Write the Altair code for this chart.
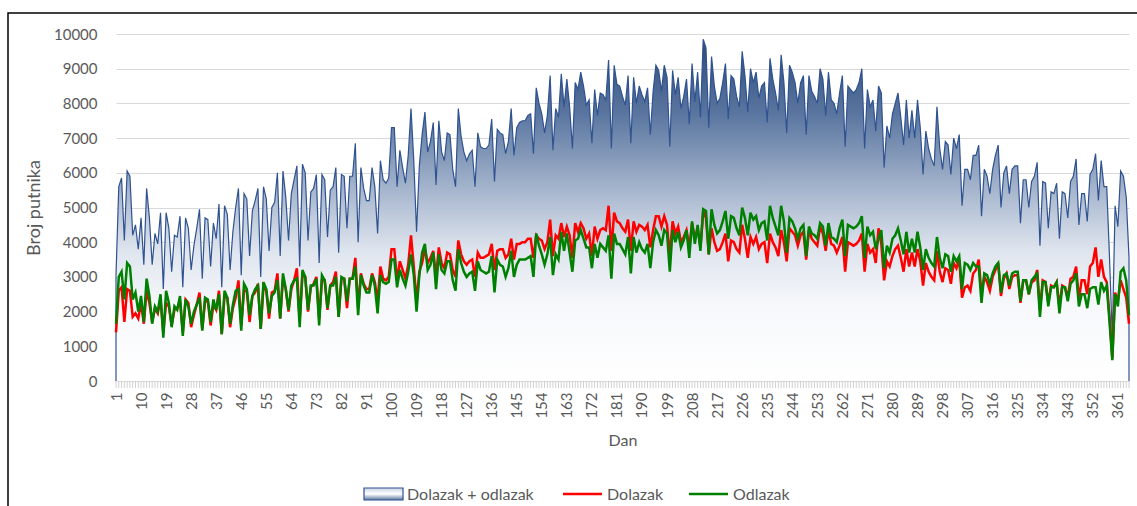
import altair as alt
import pandas as pd

# Day of year (category axis)
dani = list(range(1, 366))

# Daily arrivals (Dolazak)
dolazak = [
    1400, 2600, 2700, 1700, 2650, 2600, 1850, 1950, 1800, 2250,
    1650, 2600, 2250, 1700, 2100, 1950, 2350, 1400, 2250, 2150,
    1600, 2050, 2100, 2300, 1400, 2350, 2250, 1550, 1900, 2200,
    2550, 1500, 2300, 2300, 1600, 2200, 2050, 2600, 1350, 2450,
    2400, 1550, 2100, 2400, 2900, 1600, 2600, 2600, 1700, 2450,
    2550, 2800, 1500, 2750, 2600, 1800, 2550, 2600, 3100, 1800,
    2950, 2650, 2000, 2650, 2900, 3250, 1750, 3050, 3000, 2000,
    2700, 2800, 3000, 1800, 2900, 2900, 2050, 2750, 2850, 3150,
    1850, 2950, 2950, 2100, 2950, 2950, 3550, 2100, 3100, 2800,
    2650, 2650, 3100, 2850, 2300, 3300, 2950, 2900, 3000, 3800,
    3800, 2900, 3450, 3200, 2950, 3350, 4200, 3300, 2300, 3150,
    3400, 3800, 3400, 3550, 3750, 3000, 3850, 3400, 3250, 3700,
    3650, 3200, 3000, 4050, 3650, 3450, 3350, 3450, 3500, 3000,
    3700, 3550, 3550, 3600, 3650, 3950, 3200, 3750, 3800, 3800,
    3550, 3650, 4100, 3500, 3950, 3950, 4000, 4000, 4100, 4100,
    3550, 4200, 4100, 4050, 3800, 4000, 4650, 3600, 4200, 4100,
    4550, 4150, 4450, 4200, 3550, 4550, 4300, 4550, 4400, 4100,
    4250, 3600, 4450, 4100, 4350, 4400, 4350, 5050, 3750, 4850,
    4600, 4550, 4400, 4300, 4650, 3750, 4600, 4300, 4500, 4450,
    4350, 4500, 3850, 4350, 4750, 4750, 4450, 4750, 4500, 3600,
    4600, 4250, 4450, 4000, 4150, 4350, 3850, 4550, 4100, 4400,
    3850, 4900, 4700, 3650, 4400, 4000, 3750, 3800, 4000, 4250,
    3450, 4050, 4000, 3800, 3700, 4500, 4100, 3550, 4150, 3950,
    4150, 3800, 3950, 4000, 3400, 4250, 4000, 3850, 3600, 4350,
    4000, 3450, 4400, 4300, 4200, 3900, 4200, 4300, 3500, 4350,
    4100, 4000, 3900, 4450, 4250, 3750, 4350, 3950, 3900, 3700,
    3900, 4150, 3150, 4000, 3950, 3900, 3950, 4050, 4250, 3150,
    3950, 3700, 3800, 3400, 4400, 3950, 2900, 3450, 3300, 3600,
    3800, 3900, 3550, 3150, 3800, 3300, 3700, 3300, 3800, 3450,
    2750, 3400, 3150, 3000, 2900, 3750, 3150, 2850, 3250, 3200,
    2800, 3400, 3250, 3500, 2400, 2700, 2750, 2600, 3100, 3200,
    3500, 2500, 3000, 2850, 2600, 3000, 3200, 3400, 2450, 2950,
    3100, 2650, 3000, 3050, 3050, 2250, 2900, 2900, 2500, 2850,
    2900, 3200, 2050, 2900, 2850, 2250, 2750, 2700, 2850, 2150,
    2750, 2700, 2400, 2950, 3000, 3300, 2350, 2900, 2900, 2500,
    3300, 3400, 3850, 3000, 3500, 3000, 2850, 1850, 650, 2550,
    2300, 2900, 2650, 2400, 1650,
]

# Daily departures (Odlazak)
odlazak = [
    1650, 3000, 3150, 2350, 3400, 3300, 2350, 2550, 2000, 2450,
    1700, 2950, 2450, 1650, 2150, 2000, 2500, 1250, 2600, 2250,
    1550, 2150, 2050, 2450, 1300, 2350, 2150, 1650, 2000, 2200,
    2400, 1450, 2400, 2350, 1700, 2350, 2050, 2500, 1350, 2600,
    2400, 1650, 2200, 2600, 2650, 1450, 2800, 2650, 1900, 2450,
    2650, 2750, 1500, 2850, 2650, 1950, 2450, 2550, 2900, 1800,
    3100, 2650, 2050, 2750, 2900, 2950, 1550, 3200, 3000, 2050,
    2750, 2750, 2950, 1600, 3050, 2900, 2100, 2750, 2750, 3000,
    1850, 3000, 2950, 2300, 2950, 2950, 3300, 1900, 3050, 2750,
    2550, 2550, 3050, 2750, 1950, 3050, 2850, 2800, 2850, 3500,
    3500, 2700, 3200, 2950, 2750, 3150, 3650, 3050, 2000, 3050,
    3700, 3950, 3200, 3350, 3700, 2650, 3650, 3200, 3100, 3450,
    3450, 2900, 2600, 3800, 3400, 3150, 3000, 3100, 3150, 2600,
    3450, 3200, 3150, 3100, 3150, 3600, 2550, 3500, 3350, 3300,
    3000, 3250, 3750, 3000, 3350, 3500, 3500, 3500, 3550, 3600,
    3000, 4250, 3900, 3650, 3350, 3650, 4150, 3050, 3650, 3500,
    4300, 3750, 4250, 3700, 3150, 4050, 4100, 4350, 4100, 3850,
    3850, 3250, 3950, 3550, 3950, 3850, 3750, 4200, 2950, 4250,
    3950, 3950, 3800, 3650, 4150, 3100, 4150, 3700, 4000, 3800,
    3700, 3950, 3250, 4000, 4350, 4200, 3900, 4350, 4250, 3150,
    4350, 4000, 4300, 3850, 4050, 4350, 3550, 4600, 3950, 4500,
    3750, 4950, 4900, 3650, 4950, 4500, 4250, 4350, 4600, 4900,
    4100, 4750, 4700, 4400, 4200, 5000, 4700, 4200, 4850, 4650,
    4750, 4350, 4550, 4600, 4050, 5050, 4700, 4450, 4200, 5050,
    4600, 3700, 4700, 4600, 4400, 4100, 4400, 4500, 3600, 4450,
    4250, 4200, 4100, 4550, 4450, 3900, 4550, 4150, 4100, 4000,
    4400, 4650, 3600, 4500, 4450, 4400, 4450, 4550, 4750, 3550,
    4450, 4200, 4300, 3800, 4100, 4350, 3250, 3900, 3700, 4100,
    4200, 4400, 4050, 3650, 4300, 3700, 4100, 3700, 4300, 3850,
    3200, 3800, 3550, 3400, 3300, 4150, 3550, 3250, 3650, 3600,
    3150, 3600, 3450, 3600, 2650, 3400, 3350, 3200, 3400, 3300,
    3300, 2250, 3100, 3050, 2800, 3100, 3300, 3400, 2550, 3050,
    3100, 2750, 3100, 3150, 3150, 2300, 2900, 2900, 2500, 2900,
    3000, 3100, 1850, 2850, 2850, 2150, 2700, 2700, 2850, 1950,
    2700, 2700, 2300, 2800, 2900, 3100, 2150, 2500, 2500, 2100,
    2650, 2700, 2700, 2200, 2850, 2600, 2750, 1700, 600, 2500,
    2150, 3150, 3250, 2900, 1900,
]

# Axis tick labels
x_oznake = [1, 10, 19, 28, 37, 46, 55, 64, 73, 82, 91, 100, 109, 118, 127,
            136, 145, 154, 163, 172, 181, 190, 199, 208, 217, 226, 235, 244,
            253, 262, 271, 280, 289, 298, 307, 316, 325, 334, 343, 352, 361]
y_oznake = [0, 1000, 2000, 3000, 4000, 5000, 6000, 7000, 8000, 9000, 10000]

# Series labels and colours
naziv_ukupno = "Dolazak + odlazak"
naziv_dolazak = "Dolazak"
naziv_odlazak = "Odlazak"
boja_ukupno = "#2f5290"
boja_dolazak = "#ff0000"
boja_odlazak = "#008000"

W, H = 1013, 347
FONT = "Lato"
SIVA = "#595959"

df = pd.DataFrame({"dan": dani, "dolazak": dolazak, "odlazak": odlazak})

gradijent = alt.Gradient(
    gradient="linear",
    stops=[
        alt.GradientStop(color="#2c4878", offset=0.0),
        alt.GradientStop(color="#5a76a0", offset=0.22),
        alt.GradientStop(color="#a9b8cf", offset=0.45),
        alt.GradientStop(color="#dfe5ee", offset=0.62),
        alt.GradientStop(color="#f6f8fb", offset=0.78),
        alt.GradientStop(color="#ffffff", offset=1.0),
    ],
    x1=0, x2=0, y1=0, y2=1,
)

x_scale = alt.Scale(domain=[1, 365], nice=False, zero=False)
y_scale = alt.Scale(domain=[0, 10000], nice=False)

os_x = alt.Axis(
    values=x_oznake, labelAngle=-90, labelAlign="right", labelBaseline="middle",
    labelPadding=11, ticks=False, domain=False, grid=False, format="d",
    labelFont=FONT, labelFontSize=15, labelColor=SIVA, labelOverlap=False,
    titleFont=FONT, titleFontSize=16, titleColor=SIVA, titleFontWeight="normal",
    titleX=W / 2, titleY=59, titleBaseline="middle",
)
os_y = alt.Axis(
    values=y_oznake, ticks=False, domain=False, grid=True, format="d",
    gridColor="#d9d9d9", gridWidth=1,
    labelFont=FONT, labelFontSize=15, labelColor=SIVA, labelPadding=19,
    titleFont=FONT, titleFontSize=18, titleColor=SIVA, titleFontWeight="normal",
    titleAngle=-90, titleX=-82, titleY=H / 2, titleBaseline="middle",
    titleAlign="center",
)


def xk():
    return alt.X("dan:Q", scale=x_scale, axis=os_x, title="Dan")


def yk(polje):
    return alt.Y(f"{polje}:Q", scale=y_scale, axis=os_y, title="Broj putnika")


base = alt.Chart(df).transform_calculate(ukupno="datum.dolazak + datum.odlazak")

povrsina = base.mark_area(color=gradijent, opacity=1).encode(x=xk(), y=yk("ukupno"))
obrub = base.mark_line(color=boja_ukupno, strokeWidth=1.2).encode(x=xk(), y=yk("ukupno"))
rubovi = base.transform_filter("datum.dan == 1 || datum.dan == 365").mark_rule(
    color=boja_ukupno, strokeWidth=1.2
).encode(x=xk(), y=yk("ukupno"), y2=alt.datum(0))

crta_dolazak = base.mark_line(color=boja_dolazak, strokeWidth=2.5).encode(
    x=xk(), y=yk("dolazak")
)
crta_odlazak = base.mark_line(color=boja_odlazak, strokeWidth=2.5).encode(
    x=xk(), y=yk("odlazak")
)

# small category tick marks under the plot, one per day
zupci = alt.Chart(df).mark_rule(color="#d0d0d0", strokeWidth=1).encode(
    x=xk(), y=alt.value(H), y2=alt.value(H + 7)
)

# legend drawn below the plot
jedan = alt.Data(values=[{"k": 1}])
leg_y = 460
leg_povrsina = alt.Chart(jedan).mark_rect(
    fill=alt.Gradient(
        gradient="linear",
        stops=[alt.GradientStop(color="#c9d3e2", offset=0.0),
               alt.GradientStop(color="#ffffff", offset=0.5),
               alt.GradientStop(color="#5a76a0", offset=1.0)],
        x1=0, x2=0, y1=0, y2=1,
    ),
    stroke=boja_ukupno, strokeWidth=1.2,
).encode(x=alt.value(248), x2=alt.value(287), y=alt.value(leg_y - 6), y2=alt.value(leg_y + 6))
leg_crta_d = alt.Chart(jedan).mark_rule(color=boja_dolazak, strokeWidth=2.5).encode(
    x=alt.value(447), x2=alt.value(486), y=alt.value(leg_y)
)
leg_crta_o = alt.Chart(jedan).mark_rule(color=boja_odlazak, strokeWidth=2.5).encode(
    x=alt.value(573), x2=alt.value(612), y=alt.value(leg_y)
)
tekst = dict(align="left", baseline="middle", font=FONT, fontSize=16, color=SIVA)
leg_t1 = alt.Chart(jedan).mark_text(**tekst).encode(
    x=alt.value(291), y=alt.value(leg_y + 1), text=alt.value(naziv_ukupno))
leg_t2 = alt.Chart(jedan).mark_text(**tekst).encode(
    x=alt.value(491), y=alt.value(leg_y + 1), text=alt.value(naziv_dolazak))
leg_t3 = alt.Chart(jedan).mark_text(**tekst).encode(
    x=alt.value(617), y=alt.value(leg_y + 1), text=alt.value(naziv_odlazak))

# outer frame around the chart
okvir = alt.Chart(jedan).mark_rect(filled=False, stroke="#000000", strokeWidth=1.5).encode(
    x=alt.value(-108), x2=alt.value(1040), y=alt.value(-21), y2=alt.value(500)
)

chart = alt.layer(
    povrsina, obrub, rubovi, zupci, crta_dolazak, crta_odlazak,
    leg_povrsina, leg_crta_d, leg_crta_o, leg_t1, leg_t2, leg_t3, okvir,
).properties(
    width=W, height=H,
    autosize=alt.AutoSizeParams(type="none"),
    padding={"left": 116, "top": 34, "right": 8, "bottom": 125},
    background="white",
).configure_view(stroke=None)

chart.save("out.html", embed_options={"renderer": "svg", "actions": False})
